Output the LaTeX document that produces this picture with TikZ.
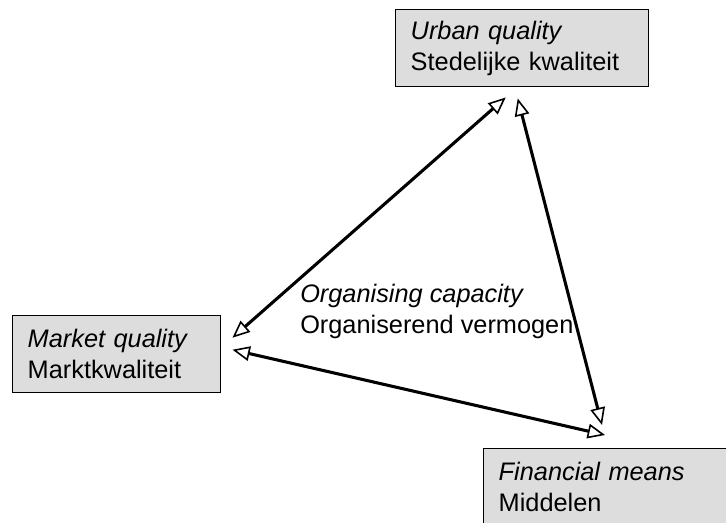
\documentclass[tikz,border=0pt]{standalone}
\usepackage{fontspec}
\setmainfont{Liberation Sans}
\usetikzlibrary{arrows.meta}
\definecolor{boxgray}{RGB}{221,221,221}

\begin{document}
\begin{tikzpicture}[x=0.75pt,y=-0.75pt,
    every node/.style={font={\fontsize{19pt}{23.25pt}\selectfont}},
    box/.style={draw,line width=1.1pt,fill=boxgray,anchor=north west,align=left,
      inner xsep=11.25pt,inner ysep=0pt,minimum height=57.75pt},
    link/.style={line width=2.3pt,{Triangle[open,length=13pt,width=11pt,line width=1.2pt]}-{Triangle[open,length=13pt,width=11pt,line width=1.2pt]}}]
    \clip (0,0) rectangle (726,523);

    \node[box,text width=167.25pt] (urban) at (395,9) {\textit{Urban quality}\\Stedelijke kwaliteit};
    \node[box,text width=133.5pt] (market) at (12,315) {\textit{Market quality}\\Marktkwaliteit};
    \node[box,text width=202.5pt] (financial) at (483,448) {\textit{Financial means}\\Middelen};

    \node[anchor=north west,inner sep=0pt,align=left] (capacity) at (300,284) {\textit{Organising capacity}\\Organiserend vermogen};

    \coordinate (urbanleft) at ([shift={(-16.5,10)}]urban.south);
    \coordinate (urbanright) at ([shift={(-4.5,11)}]urban.south);
    \coordinate (markettop) at ([shift={(11,-16.5)}]market.east);
    \coordinate (marketbottom) at ([shift={(11,-4.5)}]market.east);
    \coordinate (financialtop) at ([shift={(119,-23)}]financial.north west);
    \coordinate (financialleft) at ([shift={(122,-13)}]financial.north west);

    \draw[link] (urbanleft) -- (markettop);
    \draw[link] (urbanright) -- (financialtop);
    \draw[link] (marketbottom) -- (financialleft);
\end{tikzpicture}
\end{document}
